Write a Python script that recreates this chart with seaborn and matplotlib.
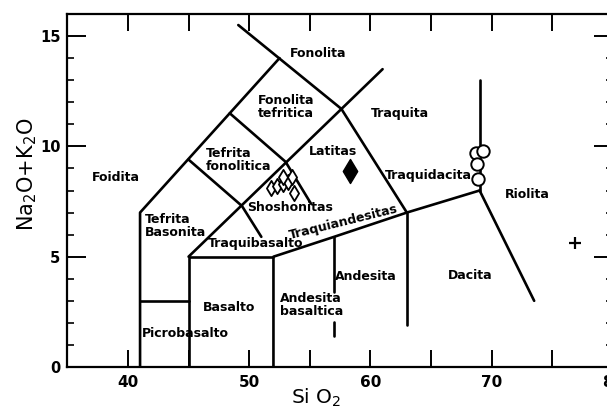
import matplotlib
matplotlib.use("Agg")
import matplotlib.pyplot as plt
from matplotlib.ticker import MultipleLocator, FuncFormatter
import pandas as pd
import seaborn as sns

# --- TAS field boundaries (SiO2 wt%, Na2O+K2O wt%) ---
foidita_line = [(41, 0), (41, 7), (52.5, 14)]
fonolita_line = [(49.1, 15.5), (57.6, 11.7), (63, 7)]
traquita_line = [(45, 5), (61, 13.5)]
tefrita_line = [(45, 9.4), (49.4, 7.3), (51.0, 5.9)]
shoshonita_line = [(48.4, 11.5), (53, 9.3), (55.1, 7.4)]
picrobasalto_line = [(41, 3), (45, 3)]
basalto_line = [(45, 0), (45, 5), (52, 5)]
subalcalino_line = [(52, 0), (52, 5), (57, 5.9), (63, 7), (69, 8)]
andesita_upper = [(57, 5.9), (57, 3.4)]
andesita_lower = [(57, 2.05), (57, 1.4)]
dacita_line = [(63, 7), (63, 1.9)]
riolita_line = [(69, 8), (73.5, 3)]
traquidacita_line = [(69, 8), (69, 13)]

boundaries = [foidita_line, fonolita_line, traquita_line, tefrita_line,
              shoshonita_line, picrobasalto_line, basalto_line,
              subalcalino_line, andesita_upper, andesita_lower,
              dacita_line, riolita_line, traquidacita_line]

# --- Samples ---
shoshonita_x = [51.8, 52.3, 52.8, 53.2, 53.5, 52.8, 53.7]
shoshonita_y = [8.1, 8.2, 8.3, 8.4, 8.6, 8.6, 7.9]
latita_x = [58.3]
latita_y = [8.9]
traquidacita_x = [68.7, 69.3, 68.8, 68.9]
traquidacita_y = [9.7, 9.8, 9.2, 8.5]
riolita_x = [76.9]
riolita_y = [5.6]

rows = []
for i, seg in enumerate(boundaries):
    for (sx, sy) in seg:
        rows.append({"seg": i, "SiO2": sx, "alk": sy})
lines_df = pd.DataFrame(rows)

sns.set_style("ticks")
plt.rcParams["font.family"] = ["DejaVu Sans"]
plt.rcParams.update({"text.color": "black", "axes.labelcolor": "black",
                     "xtick.color": "black", "ytick.color": "black",
                     "axes.edgecolor": "black"})

fig = plt.figure(figsize=(6.07, 4.09), dpi=100)
ax = fig.add_axes([67.3 / 607, 42 / 409, 545.7 / 607, 353 / 409])

sns.lineplot(data=lines_df, x="SiO2", y="alk", units="seg", estimator=None,
             sort=False, color="black", lw=1.9, ax=ax, legend=False)

sns.scatterplot(x=shoshonita_x, y=shoshonita_y, marker="d", s=60,
                facecolor="white", edgecolor="black", linewidth=1.3, ax=ax, zorder=3)
sns.scatterplot(x=latita_x, y=latita_y, marker="d", s=150,
                color="black", edgecolor="black", linewidth=1, ax=ax, zorder=3)
sns.scatterplot(x=traquidacita_x, y=traquidacita_y, marker="o", s=80,
                facecolor="white", edgecolor="black", linewidth=1.4, ax=ax, zorder=3)
sns.scatterplot(x=riolita_x, y=riolita_y, marker="+", s=80,
                color="black", linewidth=1.6, ax=ax, zorder=3)

# Field names
txt = dict(fontsize=9, fontweight="bold", color="black", va="center")
ax.text(55.7, 14.2, "Fonolita", ha="center", **txt)
ax.text(50.7, 11.8, "Fonolita\ntefritica", ha="left", linespacing=1.0, **txt)
ax.text(46.4, 9.4, "Tefrita\nfonolitica", ha="left", linespacing=1.0, **txt)
ax.text(41.4, 6.4, "Tefrita\nBasonita", ha="left", linespacing=1.0, **txt)
ax.text(37.0, 8.6, "Foidita", ha="left", **txt)
ax.text(56.9, 9.75, "Latitas", ha="center", **txt)
ax.text(62.4, 11.5, "Traquita", ha="center", **txt)
ax.text(64.8, 8.7, "Traquidacita", ha="center", **txt)
ax.text(72.9, 7.8, "Riolita", ha="center", **txt)
ax.text(68.2, 4.15, "Dacita", ha="center", **txt)
ax.text(59.6, 4.1, "Andesita", ha="center", **txt)
ax.text(52.5, 2.8, "Andesita\nbasaltica", ha="left", linespacing=1.0, **txt)
ax.text(48.3, 2.7, "Basalto", ha="center", **txt)
ax.text(44.7, 1.5, "Picrobasalto", ha="center", **txt)
ax.text(50.5, 5.6, "Traquibasalto", ha="center", **txt)
ax.text(53.4, 7.25, "Shoshonitas", ha="center", **txt)
ax.text(57.8, 6.55, "Traquiandesitas", ha="center", rotation=14,
        rotation_mode="anchor", **txt)

ax.set_xlim(35, 80)
ax.set_ylim(0, 16)

ax.xaxis.set_major_locator(MultipleLocator(5))
ax.xaxis.set_major_formatter(FuncFormatter(lambda v, p: f"{v:.0f}" if v % 10 == 0 else ""))
ax.yaxis.set_major_locator(MultipleLocator(5))
ax.yaxis.set_minor_locator(MultipleLocator(1))

ax.tick_params(axis="x", which="major", direction="in", length=12.5, width=1.4,
               top=True, bottom=True, labelsize=11, pad=6, color="black",
               labelcolor="black")
ax.tick_params(axis="y", which="major", direction="in", length=13.5, width=1.4,
               left=True, right=True, labelsize=10.5, pad=5, color="black",
               labelcolor="black")
ax.tick_params(axis="y", which="minor", direction="in", length=5, width=1.2,
               left=True, right=True, color="black")
for lab in ax.get_xticklabels() + ax.get_yticklabels():
    lab.set_fontweight("bold")

for sp in ax.spines.values():
    sp.set_linewidth(1.6)
    sp.set_color("black")

ax.set_xlabel("Si O$_2$", fontsize=14.5, color="black")
ax.set_ylabel("Na$_2$O+K$_2$O", fontsize=15, color="black")
ax.xaxis.set_label_coords(0.456, -0.055)
ax.yaxis.set_label_coords(-0.052, 0.547)

fig.savefig("out.png", dpi=100)
